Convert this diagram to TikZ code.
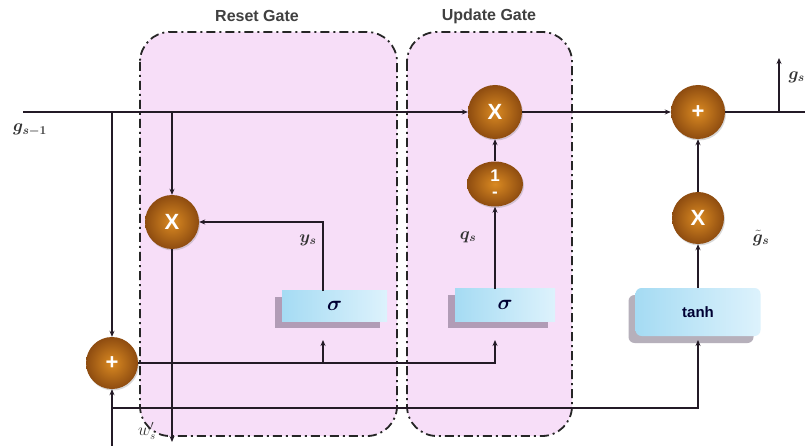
\documentclass[tikz,border=0pt]{standalone}
\usepackage{fontspec}
\setsansfont{Liberation Sans}
\usepackage{amsmath,bm}
\usetikzlibrary{arrows.meta,shadows,shapes.geometric,calc}
\definecolor{gatefill}{HTML}{F7DEF8}
\definecolor{ballin}{HTML}{DA8A22}
\definecolor{ballout}{HTML}{8E4C10}
\definecolor{boxl}{HTML}{A5DBF3}
\definecolor{boxr}{HTML}{DDF2FC}
\definecolor{wirec}{HTML}{231A26}
\definecolor{txt}{HTML}{333333}
\definecolor{shad}{HTML}{4A3A55}
\begin{document}
\begin{tikzpicture}[x=1pt,y=-1pt,
  gatebox/.style={draw=black!85, line width=1.8pt, dash pattern=on 9pt off 4pt on 2pt off 4pt, fill=gatefill, rounded corners=30pt},
  opball/.style={circle, minimum size=54pt, inner sep=0pt, inner color=ballin, outer color=ballout, text=white, font=\sffamily\bfseries\fontsize{22}{22}\selectfont, drop shadow={shadow xshift=1pt, shadow yshift=-1.5pt, opacity=0.3}},
  actbox/.style={rectangle, inner sep=0pt, left color=boxl, right color=boxr, text=black!80!blue, drop shadow={shadow xshift=-7pt, shadow yshift=-7pt, opacity=0.4, fill=shad}},
  wire/.style={draw=wirec, line width=1.6pt, -{Stealth[length=6pt,width=5pt]}},
  plainwire/.style={draw=wirec, line width=1.6pt},
  lab/.style={text=txt, font=\fontsize{17}{17}\selectfont},
  gatelab/.style={text=black!75, font=\sffamily\bfseries\fontsize{16}{16}\selectfont}
]
\useasboundingbox (0,0) rectangle (805,446);
\fill[white] (0,0) rectangle (805,446);

% gate regions
\draw[gatebox] (140,32) rectangle (397,436);
\draw[gatebox] (407,32) rectangle (572,436);
\node[gatelab] (resetlab) at (257,16) {Reset Gate};
\node[gatelab] (updatelab) at (489,16) {Update Gate};

% coordinates
\coordinate (gin) at (23,112);
\coordinate (gout) at (805,112);
\coordinate (gup) at (779,58);
\coordinate (gbr) at (779,112);
\coordinate (br1) at (112,112);
\coordinate (br2) at (172,112);
\coordinate (wout) at (172,442);
\coordinate (xin) at (112,446);
\coordinate (xbr) at (112,408);
\coordinate (tin) at (698,340);
\coordinate (sRin) at (323,340);
\coordinate (sRbr) at (323,362);
\coordinate (sUin) at (495,340);
\coordinate (sRtop) at (323,291);
\coordinate (sUtop) at (495,289);

% operation nodes
\node[opball] (Xr) at (172,222) {X};
\node[opball, minimum size=52pt] (Pin) at (112,363) {+};
\node[opball] (Xu) at (495,112) {X};
\node[ellipse, minimum width=56pt, minimum height=45pt, inner sep=0pt, inner color=ballin, outer color=ballout, text=white, font=\sffamily\bfseries\fontsize{17}{13}\selectfont, drop shadow={shadow xshift=1pt, shadow yshift=-1.5pt, opacity=0.3}, align=center] (One) at (495,184) {1\\[3pt]-};
\node[opball] (Pout) at (698,112) {+};
\node[opball, minimum size=52pt] (Xo) at (698,218) {X};

% activation boxes
\node[actbox, minimum width=105pt, minimum height=31pt, font=\fontsize{21}{21}\selectfont] (sigR) at (334.5,305.5) {$\bm{\sigma}$};
\node[actbox, minimum width=100pt, minimum height=33pt, font=\fontsize{21}{21}\selectfont] (sigU) at (505,304.5) {$\bm{\sigma}$};
\node[actbox, minimum width=125pt, minimum height=48pt, rounded corners=6pt, font=\sffamily\bfseries\fontsize{15}{15}\selectfont] (tanh) at (698,312) {tanh};

% connectors
\draw[wire] (gin) -- (Xu.west);
\draw[wire] (Xu.east) -- (Pout.west);
\draw[plainwire] (Pout.east) -- (gout);
\draw[wire] (gbr) -- (gup);
\draw[wire] (br1) -- (Pin.north);
\draw[wire] (br2) -- (Xr.north);
\draw[wire] (Xr.south) -- (wout);
\draw[wire] (xin) -- (Pin.south);
\draw[wire] (xbr) -| (tin);
\draw[wire] (Pin.east) -| (sUin);
\draw[wire] (sRbr) -- (sRin);
\draw[wire] (sRtop) |- (Xr.east);
\draw[wire] (sUtop) -- (One.south);
\draw[wire] (One.north) -- (Xu.south);
\draw[wire] (tanh.north) -- (Xo.south);
\draw[wire] (Xo.north) -- (Pout.south);

% labels
\node[lab] (lgin) at (30,130) {$\bm{g_{s-1}}$};
\node[lab] (lys) at (308,240) {$\bm{y_s}$};
\node[lab] (lqs) at (468,237) {$\bm{q_s}$};
\node[lab] (lgt) at (761,238) {$\bm{\tilde{g}_s}$};
\node[lab, anchor=west] (lgs) at (785,77) {$\bm{g_s}$};
\node[lab, font=\fontsize{16}{16}\selectfont] (lws) at (147,431) {$w'_s$};
\end{tikzpicture}
\end{document}
